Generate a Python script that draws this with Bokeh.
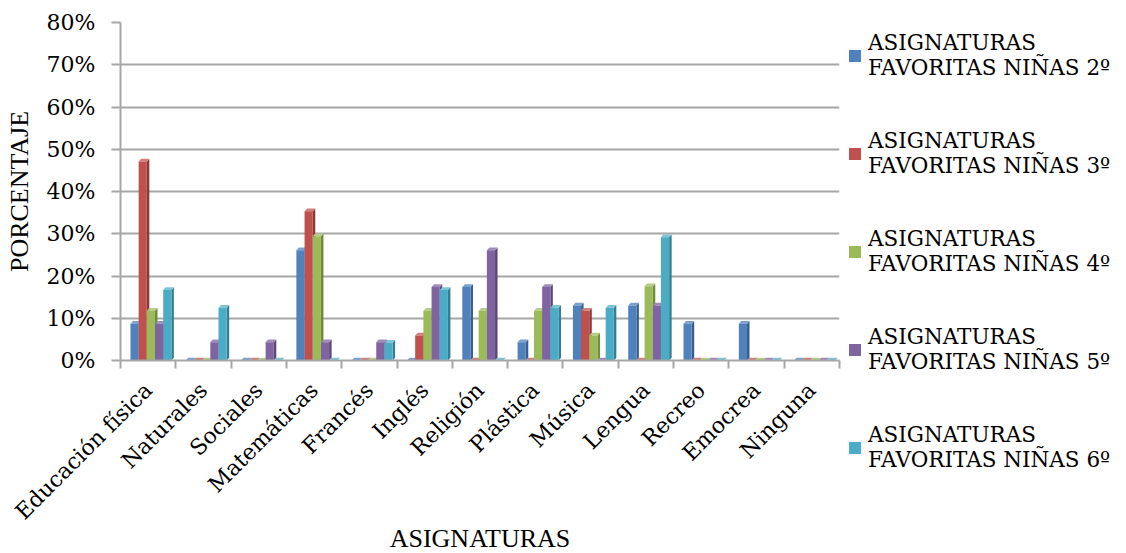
import numpy as np
from bokeh.plotting import figure
from bokeh.models import (Legend, LegendItem, FixedTicker, PrintfTickFormatter,
                          Range1d, ColumnDataSource)
from bokeh.embed import file_html
from bokeh.resources import INLINE

categories = ["Educación física", "Naturales", "Sociales", "Matemáticas", "Francés",
              "Inglés", "Religión", "Plástica", "Música", "Lengua", "Recreo",
              "Emocrea", "Ninguna"]

series_names = ["ASIGNATURAS\nFAVORITAS NIÑAS 2º", "ASIGNATURAS\nFAVORITAS NIÑAS 3º",
                "ASIGNATURAS\nFAVORITAS NIÑAS 4º", "ASIGNATURAS\nFAVORITAS NIÑAS 5º",
                "ASIGNATURAS\nFAVORITAS NIÑAS 6º"]

ninas_2 = [8.7, 0, 0, 26.1, 0, 0, 17.4, 4.3, 13.0, 13.0, 8.7, 8.7, 0]
ninas_3 = [47.1, 0, 0, 35.3, 0, 5.9, 0, 0, 11.8, 0, 0, 0, 0]
ninas_4 = [11.8, 0, 0, 29.4, 0, 11.8, 11.8, 11.8, 5.9, 17.6, 0, 0, 0]
ninas_5 = [8.7, 4.3, 4.3, 4.3, 4.3, 17.4, 26.1, 17.4, 0, 13.0, 0, 0, 0]
ninas_6 = [16.7, 12.5, 0, 0, 4.2, 16.7, 0, 12.5, 12.5, 29.2, 0, 0, 0]

y_ticks = [0, 10, 20, 30, 40, 50, 60, 70, 80]

front_colors = ["#4F81BD", "#C0504D", "#9BBB59", "#8064A2", "#4BACC6"]
side_colors = ["#385D8A", "#8C3836", "#71893F", "#5C4776", "#357D91"]
top_colors = ["#7BA0CD", "#D27F7D", "#B5CD85", "#A08BBB", "#7CC3D6"]

all_series = [ninas_2, ninas_3, ninas_4, ninas_5, ninas_6]

TITLE_FONT = "Liberation Serif"
LABEL_FONT = "DejaVu Serif"
GRAY = "#A6A6A6"

p = figure(frame_width=719, frame_height=338,
           x_range=Range1d(0, len(categories)), y_range=Range1d(0, 80),
           output_backend="svg", toolbar_location=None)
p.min_border_left = 120
p.min_border_top = 22
p.min_border_right = 0
p.min_border_bottom = 0
p.outline_line_color = None
p.background_fill_color = "white"
p.border_fill_color = "white"

# grid
p.xgrid.visible = False
p.ygrid.ticker = FixedTicker(ticks=y_ticks)
p.ygrid.grid_line_color = GRAY
p.ygrid.grid_line_width = 2

# y axis
p.yaxis.ticker = FixedTicker(ticks=y_ticks)
p.yaxis.formatter = PrintfTickFormatter(format="%d%%")
p.yaxis.axis_line_color = GRAY
p.yaxis.axis_line_width = 2
p.yaxis.major_tick_line_color = GRAY
p.yaxis.major_tick_line_width = 2
p.yaxis.major_tick_out = 9
p.yaxis.major_tick_in = 0
p.yaxis.minor_tick_line_color = None
p.yaxis.major_label_text_font = LABEL_FONT
p.yaxis.major_label_text_font_size = "22px"
p.yaxis.major_label_text_color = "black"
p.yaxis.major_label_standoff = 16
p.yaxis.axis_label = "PORCENTAJE"
p.yaxis.axis_label_text_font = TITLE_FONT
p.yaxis.axis_label_text_font_size = "26px"
p.yaxis.axis_label_text_font_style = "normal"
p.yaxis.axis_label_text_color = "black"
p.yaxis.axis_label_standoff = 10

# x axis: labels at category centres, ticks at boundaries
centers = [i + 0.5 for i in range(len(categories))]
bounds = [float(i) for i in range(len(categories) + 1)]
p.xaxis.ticker = FixedTicker(ticks=centers, minor_ticks=bounds)
p.xaxis.major_label_overrides = {c: name for c, name in zip(centers, categories)}
p.xaxis.major_label_orientation = np.pi / 4
p.xaxis.axis_line_color = GRAY
p.xaxis.axis_line_width = 2
p.xaxis.major_tick_line_color = None
p.xaxis.minor_tick_line_color = GRAY
p.xaxis.minor_tick_line_width = 2
p.xaxis.minor_tick_out = 8
p.xaxis.minor_tick_in = 0
p.xaxis.major_label_text_font = LABEL_FONT
p.xaxis.major_label_text_font_size = "22px"
p.xaxis.major_label_text_color = "black"
p.xaxis.major_label_standoff = 18
p.xaxis.axis_label = "ASIGNATURAS"
p.xaxis.axis_label_text_font = TITLE_FONT
p.xaxis.axis_label_text_font_size = "26px"
p.xaxis.axis_label_text_font_style = "normal"
p.xaxis.axis_label_text_color = "black"
p.xaxis.axis_label_standoff = -12

# bars with a light 3D look
w = 0.148
start = 0.18
dx = 0.045
dy = 0.65
items = []
for k, (vals, name) in enumerate(zip(all_series, series_names)):
    vals = np.array(vals, dtype=float)
    xl = np.arange(len(categories)) + start + k * w
    xr = xl + w
    side_xs = [[a, a + dx, a + dx, a] for a in xr]
    side_ys = [[0, dy, v + dy, v] for v in vals]
    top_xs = [[a, b, b + dx, a + dx] for a, b in zip(xl, xr)]
    top_ys = [[v, v, v + dy, v + dy] for v in vals]
    p.patches(side_xs, side_ys, fill_color=side_colors[k], line_color=None)
    p.patches(top_xs, top_ys, fill_color=top_colors[k], line_color=None)
    src = ColumnDataSource(dict(x=xl + w / 2, top=vals))
    r = p.vbar(x="x", top="top", bottom=0, width=w, source=src,
               fill_color=front_colors[k], line_color=None)
    items.append(LegendItem(label=name, renderers=[r]))

legend = Legend(items=items, location="top_left")
legend.label_text_font = LABEL_FONT
legend.label_text_font_size = "21.5px"
legend.label_text_color = "black"
legend.label_text_line_height = 1.4
legend.glyph_width = 15
legend.glyph_height = 15
legend.label_standoff = 6
legend.spacing = 48
legend.padding = 4
legend.margin = 8
legend.border_line_color = None
legend.background_fill_alpha = 0
p.add_layout(legend, "right")

open("out.html", "w").write(file_html(p, INLINE))
